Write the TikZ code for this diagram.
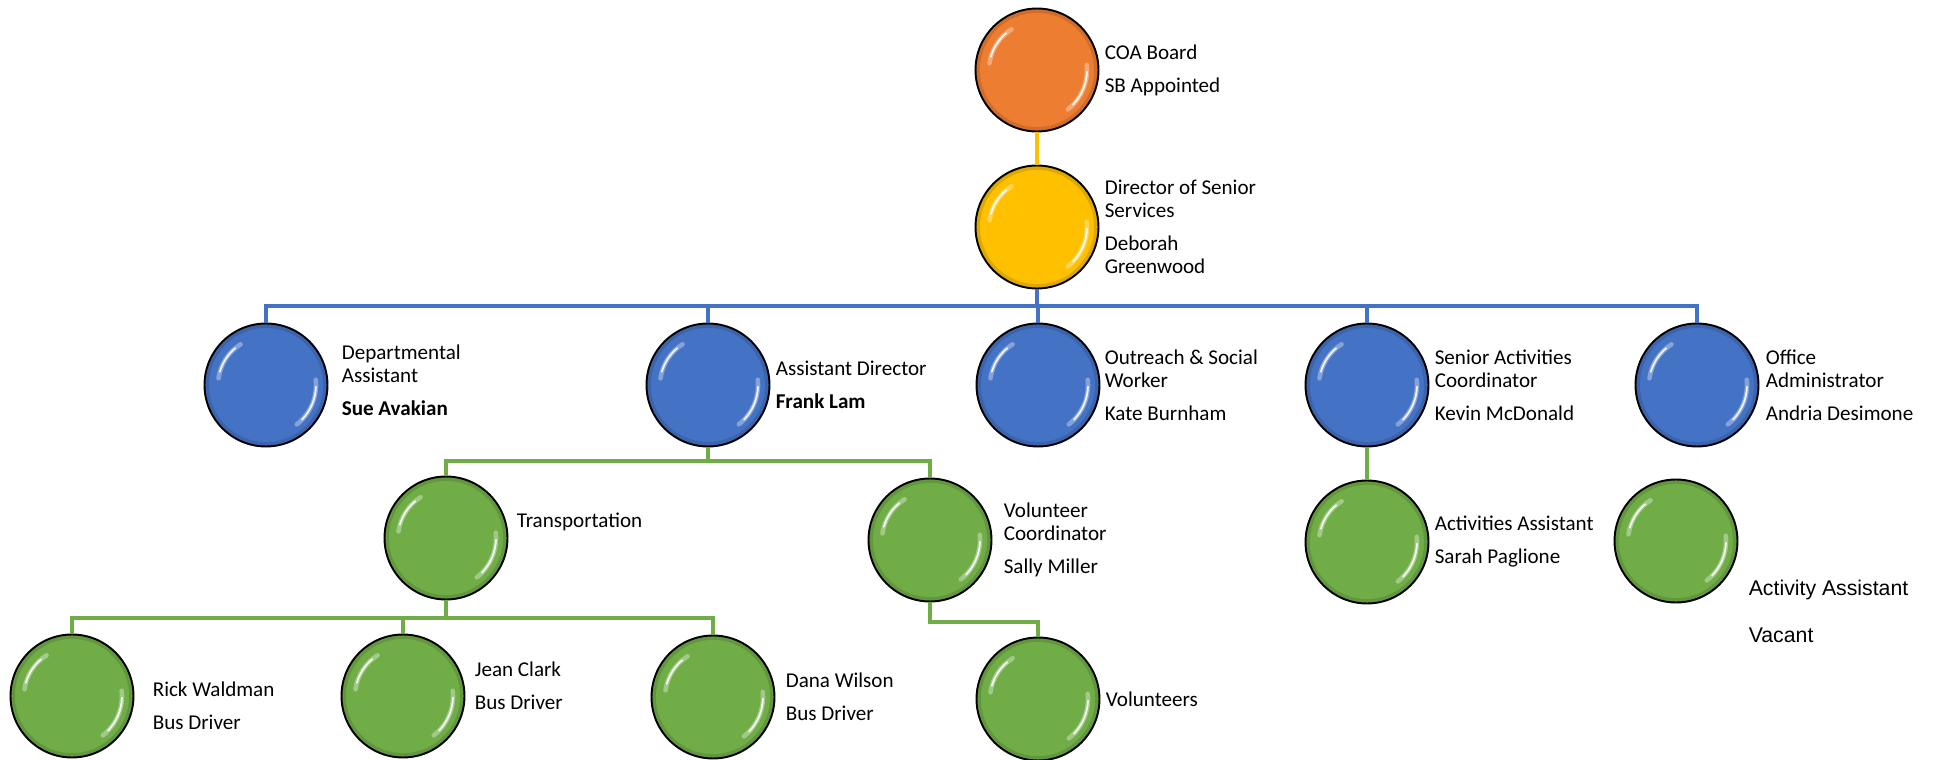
\documentclass[tikz,border=0pt]{standalone}
\usepackage{fontspec}
\setmainfont{Carlito}
\newfontfamily\arialfont{Liberation Sans}
\usetikzlibrary{positioning}

\definecolor{coaorange}{HTML}{ED7D31}
\definecolor{diryellow}{HTML}{FFC000}
\definecolor{staffblue}{HTML}{4472C4}
\definecolor{teamgreen}{HTML}{70AD47}

\begin{document}
\begin{tikzpicture}[
  x=0.02cm, y=-0.02cm,
  node distance=0.1cm,
  shine/.style={white,line cap=round,opacity=#1},
  ball/.style={circle,draw=black,line width=1.1pt,minimum size=2.46cm,inner sep=0pt,fill=#1,
    path picture={
      % darker rim
      \draw[#1!65!black,line width=5pt,opacity=.35] (path picture bounding box.center) circle[radius=1.23cm];
      % glossy highlights, soft glow then bright core
      \draw[shine=.35,line width=2.6pt]
        ([shift={(122:0.96cm)}]path picture bounding box.center) arc[start angle=122,end angle=172,radius=0.96cm];
      \draw[shine=.9,line width=1pt]
        ([shift={(130:0.96cm)}]path picture bounding box.center) arc[start angle=130,end angle=164,radius=0.96cm];
      \draw[shine=.35,line width=2.6pt]
        ([shift={(6:1cm)}]path picture bounding box.center) arc[start angle=6,end angle=-52,radius=1cm];
      \draw[shine=.9,line width=1pt]
        ([shift={(-2:1cm)}]path picture bounding box.center) arc[start angle=-2,end angle=-44,radius=1cm];
    }},
  txt/.style={align=left,inner sep=0pt,font=\fontsize{12}{13.1}\selectfont},
  link/.style={draw=#1,line width=1.8pt},
]
  \path[use as bounding box,fill=white] (0,0) rectangle (1935,760);

  % Board and director
  \node[ball=coaorange] (coa) at (1037,70) {};
  \node[txt,right=0.1cm of coa] (coatxt) {COA Board\\[5.7pt]SB Appointed};
  \node[ball=diryellow] (dir) at (1037,227) {};
  \node[txt,right=0.1cm of dir] (dirtxt) {Director of Senior\\Services\\[5.7pt]Deborah\\Greenwood};

  % Staff row
  \node[ball=staffblue] (dept) at (266,385) {};
  \node[txt,right=0.26cm of dept,yshift=0.1cm] (depttxt) {Departmental\\Assistant\\[5.7pt]\textbf{Sue Avakian}};
  \node[ball=staffblue] (asst) at (708,385) {};
  \node[txt,right=0.1cm of asst] (assttxt) {Assistant Director\\[5.7pt]\textbf{Frank Lam}};
  \node[ball=staffblue] (outr) at (1038,385) {};
  \node[txt,right=0.08cm of outr] (outrtxt) {Outreach \& Social\\Worker\\[5.7pt]Kate Burnham};
  \node[ball=staffblue] (senact) at (1367,385) {};
  \node[txt,right=0.1cm of senact] (senacttxt) {Senior Activities\\Coordinator\\[5.7pt]Kevin McDonald};
  \node[ball=staffblue] (office) at (1697,385) {};
  \node[txt,right=0.12cm of office] (officetxt) {Office\\Administrator\\[5.7pt]Andria Desimone};

  % Programs
  \node[ball=teamgreen] (transp) at (446,538) {};
  \node[txt,right=0.16cm of transp,yshift=0.32cm] (transptxt) {Transportation};
  \node[ball=teamgreen] (volco) at (930,540) {};
  \node[txt,right=0.22cm of volco] (volcotxt) {Volunteer\\Coordinator\\[5.7pt]Sally Miller};
  \node[ball=teamgreen] (actasst) at (1367,542) {};
  \node[txt,right=0.1cm of actasst] (actassttxt) {Activities Assistant\\[5.7pt]Sarah Paglione};
  \node[ball=teamgreen] (vacant) at (1676,541) {};
  \node[txt,font=\arialfont\fontsize{12.1}{13.1}\selectfont,right=0.2cm of vacant,yshift=-1.4cm] (vacanttxt)
    {Activity Assistant\\[13.6pt]Vacant};

  % Drivers and volunteers
  \node[ball=teamgreen] (rick) at (72,696) {};
  \node[txt,right=0.36cm of rick,yshift=-0.2cm] (ricktxt) {Rick Waldman\\[5.7pt]Bus Driver};
  \node[ball=teamgreen] (jean) at (403,696) {};
  \node[txt,right=0.18cm of jean,yshift=0.2cm] (jeantxt) {Jean Clark\\[5.7pt]Bus Driver};
  \node[ball=teamgreen] (dana) at (713,697) {};
  \node[txt,right=0.2cm of dana] (danatxt) {Dana Wilson\\[5.7pt]Bus Driver};
  \node[ball=teamgreen] (vols) at (1038,699) {};
  \node[txt,right=0.1cm of vols] (volstxt) {Volunteers};

  % Connectors
  \coordinate (bluebar) at (0,306);
  \coordinate (asstbar) at (0,461);
  \coordinate (transbar) at (0,618);
  \coordinate (volbar) at (0,622);

  \draw[link=diryellow] (coa) -- (dir);
  \foreach \n in {dept,asst,outr,senact,office}
    \draw[link=staffblue] (dir.south) -- (dir.south |- bluebar) -| (\n.north);
  \foreach \n in {transp,volco}
    \draw[link=teamgreen] (asst.south) -- (asst.south |- asstbar) -| (\n.north);
  \foreach \n in {rick,jean,dana}
    \draw[link=teamgreen] (transp.south) -- (transp.south |- transbar) -| (\n.north);
  \draw[link=teamgreen] (volco.south) -- (volco.south |- volbar) -| (vols.north);
  \draw[link=teamgreen] (senact) -- (actasst);
\end{tikzpicture}
\end{document}
